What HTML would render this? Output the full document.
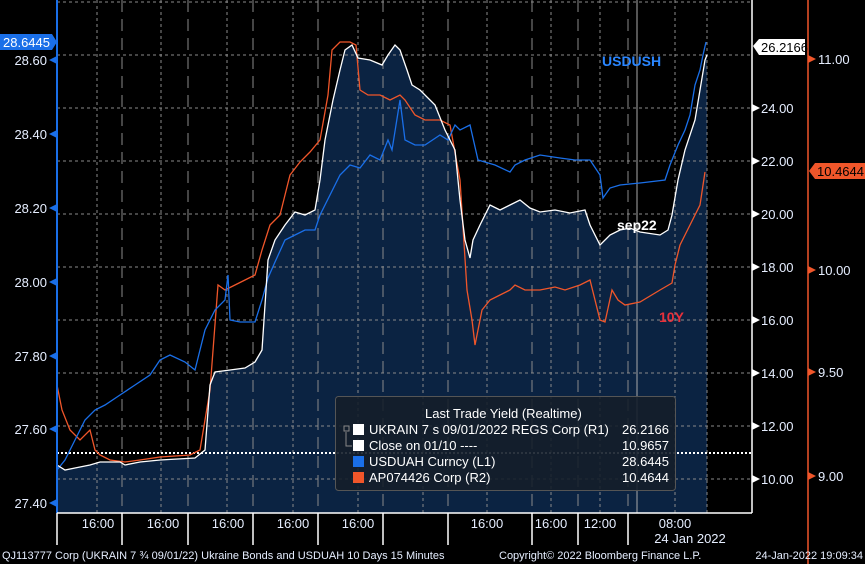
<!DOCTYPE html>
<html><head><meta charset="utf-8"><style>
html,body{margin:0;padding:0;background:#000;}
svg{display:block;font-family:"Liberation Sans",sans-serif;}
</style></head><body>
<svg width="865" height="564" viewBox="0 0 865 564" xmlns="http://www.w3.org/2000/svg">
<rect width="865" height="564" fill="#000"/>
<!-- fill under white series -->
<polygon fill="#0b2342" points="57,513 57,465 65,470 75,468 90,465 100,462 120,462 125,465 140,462 160,460 195,458 205,450 210,385 215,372 230,370 245,368 255,362 262,350 268,260 275,240 285,225 295,212 305,215 315,210 320,180 325,140 333,100 340,70 345,50 352,45 358,58 370,60 382,65 388,55 395,45 400,50 407,70 412,85 420,90 435,105 445,130 455,150 460,200 465,240 470,258 473,240 480,225 490,205 500,210 510,205 520,200 530,208 540,212 555,210 570,213 585,210 590,225 600,245 610,235 620,230 630,228 640,232 660,235 668,230 672,215 678,180 685,150 695,120 700,90 705,60 707,55 707,513"/>
<!-- horizontal grid -->
<g stroke="#8a8a8a" stroke-width="1" stroke-dasharray="3,3">
<line x1="57" y1="2" x2="752" y2="2"/><line x1="57" y1="55" x2="752" y2="55"/><line x1="57" y1="108" x2="752" y2="108"/><line x1="57" y1="161" x2="752" y2="161"/><line x1="57" y1="214" x2="752" y2="214"/><line x1="57" y1="267" x2="752" y2="267"/><line x1="57" y1="320" x2="752" y2="320"/><line x1="57" y1="373" x2="752" y2="373"/><line x1="57" y1="426" x2="752" y2="426"/><line x1="57" y1="479" x2="752" y2="479"/>
</g>
<g stroke="#8a8a8a" stroke-width="1" stroke-dasharray="3,3">
<line x1="97" y1="0" x2="97" y2="513"/><line x1="161" y1="0" x2="161" y2="513"/><line x1="227" y1="0" x2="227" y2="513"/><line x1="293" y1="0" x2="293" y2="513"/><line x1="358" y1="0" x2="358" y2="513"/><line x1="423" y1="0" x2="423" y2="513"/><line x1="487" y1="0" x2="487" y2="513"/><line x1="551" y1="0" x2="551" y2="513"/><line x1="600" y1="0" x2="600" y2="513"/><line x1="675" y1="0" x2="675" y2="513"/><line x1="707" y1="0" x2="707" y2="513"/>
</g>
<g stroke="#8a8a8a" stroke-width="1" stroke-dasharray="12,7">
<line x1="122" y1="0" x2="122" y2="513"/><line x1="188" y1="0" x2="188" y2="513"/><line x1="253" y1="0" x2="253" y2="513"/><line x1="318" y1="0" x2="318" y2="513"/><line x1="383" y1="0" x2="383" y2="513"/><line x1="448" y1="0" x2="448" y2="513"/><line x1="532" y1="0" x2="532" y2="513"/><line x1="578" y1="0" x2="578" y2="513"/><line x1="628" y1="0" x2="628" y2="513"/>
</g>
<line x1="637" y1="0" x2="637" y2="513" stroke="#aaa" stroke-width="1"/>
<!-- close dotted line -->
<line x1="57" y1="453" x2="752" y2="453" stroke="#fff" stroke-width="2" stroke-dasharray="2,2"/>
<!-- orange -->
<polyline fill="none" stroke="#f0562a" stroke-width="1.3" points="57,385 62,410 70,430 80,440 90,430 95,450 100,455 110,460 125,462 140,460 160,457 190,455 200,450 210,390 218,285 225,290 235,285 245,280 255,275 262,250 270,225 280,215 290,175 300,162 310,152 320,140 328,95 332,50 340,42 350,42 356,45 360,90 368,95 380,95 390,100 400,95 405,100 415,115 425,120 440,120 450,125 460,180 467,290 472,320 475,345 478,330 482,310 490,300 500,295 510,290 515,285 525,290 540,290 555,287 565,290 580,285 590,280 600,320 605,322 612,290 618,300 625,305 640,302 660,290 672,283 675,265 680,245 690,225 700,205 705,172"/>
<!-- blue -->
<polyline fill="none" stroke="#1a6fe8" stroke-width="1.3" points="57,470 65,460 75,440 85,420 95,410 105,405 120,395 135,385 150,375 160,360 170,355 185,362 195,370 205,330 215,310 225,300 228,275 230,320 240,322 255,322 262,300 268,278 275,262 285,240 295,235 305,230 315,230 320,215 330,195 340,175 350,165 360,168 370,155 380,160 388,140 392,150 400,100 405,140 415,145 425,145 440,135 448,140 455,125 460,130 470,125 478,160 495,165 510,172 515,165 525,160 540,155 560,158 575,160 590,160 600,175 603,198 610,188 620,185 640,183 665,180 670,165 678,145 685,130 690,115 695,85 700,70 703,55 706,42"/>
<!-- white -->
<polyline fill="none" stroke="#fff" stroke-width="1.3" points="57,465 65,470 75,468 90,465 100,462 120,462 125,465 140,462 160,460 195,458 205,450 210,385 215,372 230,370 245,368 255,362 262,350 268,260 275,240 285,225 295,212 305,215 315,210 320,180 325,140 333,100 340,70 345,50 352,45 358,58 370,60 382,65 388,55 395,45 400,50 407,70 412,85 420,90 435,105 445,130 455,150 460,200 465,240 470,258 473,240 480,225 490,205 500,210 510,205 520,200 530,208 540,212 555,210 570,213 585,210 590,225 600,245 610,235 620,230 630,228 640,232 660,235 668,230 672,215 678,180 685,150 695,120 700,90 705,60 707,55"/>
<!-- annotations -->
<text x="602" y="66" fill="#2a86ff" font-size="14" font-weight="bold">USDUSH</text>
<text x="617" y="230" fill="#fff" font-size="14" font-weight="bold">sep22</text>
<text x="659" y="322" fill="#e8303a" font-size="14" font-weight="bold">10Y</text>
<!-- legend -->
<rect x="335.5" y="396.5" width="340" height="94" rx="3" fill="#141e2a" fill-opacity="0.9" stroke="#555"/>
<text x="425" y="418" fill="#fff" font-size="13">Last Trade Yield (Realtime)</text>
<g font-size="13" fill="#fff">
<rect x="353" y="424" width="11" height="11" fill="#fff"/><text x="369" y="434">UKRAIN 7 s 09/01/2022 REGS Corp  (R1)</text><text x="669" y="434" text-anchor="end">26.2166</text>
<rect x="353" y="440" width="11" height="11" fill="#fff"/><text x="369" y="450">Close on 01/10 ----</text><text x="669" y="450" text-anchor="end">10.9657</text>
<rect x="353" y="456" width="11" height="11" fill="#1a6fe8"/><text x="369" y="466">USDUAH Curncy  (L1)</text><text x="669" y="466" text-anchor="end">28.6445</text>
<rect x="353" y="472" width="11" height="11" fill="#f0562a"/><text x="369" y="482">AP074426 Corp  (R2)</text><text x="669" y="482" text-anchor="end">10.4644</text>
</g>
<rect x="344" y="426" width="5" height="5" fill="none" stroke="#888"/>
<polyline points="346,432 346,446 352,446" fill="none" stroke="#888"/>
<!-- axes -->
<line x1="57" y1="0" x2="57" y2="513" stroke="#1a6fe8" stroke-width="2"/>
<line x1="752" y1="0" x2="752" y2="513" stroke="#fff" stroke-width="1.5"/>
<line x1="808" y1="0" x2="808" y2="564" stroke="#f0562a" stroke-width="1.5"/>
<line x1="57" y1="513" x2="752" y2="513" stroke="#fff" stroke-width="1.5"/>
<g font-size="13" fill="#e6eeff">
<text x="47" y="65" text-anchor="end">28.60</text><text x="47" y="139" text-anchor="end">28.40</text><text x="47" y="213" text-anchor="end">28.20</text><text x="47" y="287" text-anchor="end">28.00</text><text x="47" y="361" text-anchor="end">27.80</text><text x="47" y="434" text-anchor="end">27.60</text><text x="47" y="508" text-anchor="end">27.40</text>
<text x="761" y="113">24.00</text><text x="761" y="166">22.00</text><text x="761" y="219">20.00</text><text x="761" y="272">18.00</text><text x="761" y="325">16.00</text><text x="761" y="378">14.00</text><text x="761" y="431">12.00</text><text x="761" y="484">10.00</text>
<text x="818" y="64">11.00</text><text x="818" y="275">10.00</text><text x="818" y="377">9.50</text><text x="818" y="481">9.00</text>
</g>
<g fill="#1a6fe8"><polygon points="49,60 57,56 57,64"/><polygon points="49,134 57,130 57,138"/><polygon points="49,208 57,204 57,212"/><polygon points="49,282 57,278 57,286"/><polygon points="49,356 57,352 57,360"/><polygon points="49,429 57,425 57,433"/><polygon points="49,503 57,499 57,507"/></g>
<g fill="#fff"><polygon points="752,104 760,108 752,112"/><polygon points="752,157 760,161 752,165"/><polygon points="752,210 760,214 752,218"/><polygon points="752,263 760,267 752,271"/><polygon points="752,316 760,320 752,324"/><polygon points="752,369 760,373 752,377"/><polygon points="752,422 760,426 752,430"/><polygon points="752,475 760,479 752,483"/></g>
<g fill="#f0562a"><polygon points="808,55 816,59 808,63"/><polygon points="808,266 816,270 808,274"/><polygon points="808,368 816,372 808,376"/><polygon points="808,472 816,476 808,480"/></g>
<!-- value tags -->
<polygon points="0,34 52,34 57,42 52,50 0,50" fill="#1a6fe8"/><text x="3" y="47" fill="#fff" font-size="13">28.6445</text>
<polygon points="753,46 759,39 805,39 805,55 759,55" fill="#fff"/><text x="761" y="52" fill="#000" font-size="13">26.2166</text>
<polygon points="809,171 815,163 865,163 865,179 815,179" fill="#f0562a"/><text x="817" y="176" fill="#000" font-size="13">10.4644</text>
<!-- x ticks -->
<g stroke="#fff" stroke-width="1.5"><line x1="57" y1="513" x2="57" y2="545"/><line x1="122" y1="513" x2="122" y2="545"/><line x1="188" y1="513" x2="188" y2="545"/><line x1="253" y1="513" x2="253" y2="545"/><line x1="318" y1="513" x2="318" y2="545"/><line x1="383" y1="513" x2="383" y2="545"/><line x1="448" y1="513" x2="448" y2="545"/><line x1="532" y1="513" x2="532" y2="545"/><line x1="578" y1="513" x2="578" y2="545"/><line x1="628" y1="513" x2="628" y2="545"/></g>
<g font-size="13" fill="#e6eeff" text-anchor="middle">
<text x="98" y="528">16:00</text><text x="163" y="528">16:00</text><text x="228" y="528">16:00</text><text x="293" y="528">16:00</text><text x="358" y="528">16:00</text><text x="487" y="528">16:00</text><text x="551" y="528">16:00</text><text x="600" y="528">12:00</text><text x="675" y="528">08:00</text><text x="690" y="543">24 Jan 2022</text>
</g>
<g font-size="11" fill="#e6eeff">
<text x="2" y="559">QJ113777 Corp (UKRAIN 7 ¾ 09/01/22) Ukraine Bonds and USDUAH 10 Days 15 Minutes</text>
<text x="499" y="559">Copyright© 2022 Bloomberg Finance L.P.</text>
<text x="863" y="559" text-anchor="end">24-Jan-2022 19:09:34</text>
</g>
</svg>
</body></html>
